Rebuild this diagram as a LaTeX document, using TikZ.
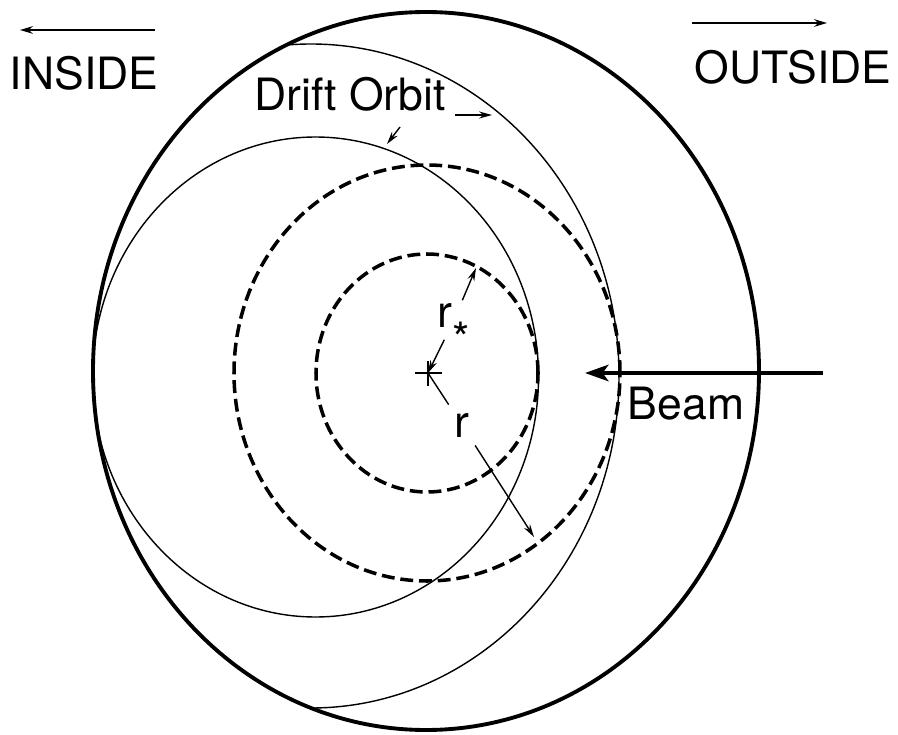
\documentclass[tikz,border=0pt]{standalone}
\usepackage{fontspec}
\setmainfont{TeX Gyre Heros}
\usetikzlibrary{arrows.meta,positioning}

\begin{document}
\begin{tikzpicture}[
  x=0.03cm, y=0.03cm,
  rim/.style={line width=3.3pt},
  orbit/.style={line width=1.2pt},
  dashring/.style={line width=3pt, dash pattern=on 11pt off 5pt},
  pointer/.style={line width=1.2pt, -{Stealth[length=11pt, width=6pt]}},
  side/.style={line width=1.3pt, -{Stealth[length=11pt, width=6.5pt]}},
  beam/.style={line width=3.4pt, -{Stealth[length=20pt, width=14pt, inset=5pt]}},
  lbl/.style={font=\fontsize{38}{40}\selectfont, inner sep=0pt},
]
\useasboundingbox (0,0) rectangle (898,-735);

% rim, orbits and rings
\draw[rim] (426,-371) ellipse [x radius=333, y radius=359];
\draw[orbit] (315.5,-377) ellipse [x radius=223, y radius=240];
\begin{scope}
  \clip (426,-371) ellipse [x radius=333, y radius=359];
  \draw[orbit] (311,-376) ellipse [x radius=308, y radius=332];
\end{scope}
\draw[dashring] (427,-373) ellipse [x radius=111, y radius=119];
\draw[dashring] (427,-373) ellipse [x radius=193, y radius=208];

% centre mark
\coordinate (ctr) at (428,-373);
\draw[orbit] (415,-373) -- (442,-373) (428,-361) -- (428,-386);

% labels
\node[lbl] (inside) at (84,-73) {INSIDE};
\node[lbl] (outside) at (793,-67) {OUTSIDE};
\node[lbl] (drift) at (350,-94) {Drift Orbit};
\node[lbl] (beamlbl) at (686,-404) {Beam};
\node[lbl, inner sep=3pt] (rstar) at (454,-320) {r\raisebox{-0.6em}[0pt][0.18em]{*}};
\node[lbl, inner sep=7pt] (rr) at (462,-425) {r};

% direction arrows
\coordinate (inR) at (155,-30);
\coordinate (inL) at (20,-30);
\draw[side] (inR) -- (inL);
\coordinate (outL) at (692,-23);
\coordinate (outR) at (827,-23);
\draw[side] (outL) -- (outR);

% drift orbit pointers
\coordinate (dr1) at (455,-115);
\coordinate (dr2) at (492,-115);
\draw[pointer] (dr1) -- (dr2);
\coordinate (dr3) at (400,-127);
\coordinate (dr4) at (387,-144);
\draw[pointer] (dr3) -- (dr4);

% beam
\coordinate (bsrc) at (823,-373);
\coordinate (btip) at (585,-373);
\draw[beam] (bsrc) -- (btip);

% radii
\coordinate (rstarend) at (476,-268);
\coordinate (rend) at (534,-537);
\draw[pointer] (rstar) -- (ctr);
\draw[pointer] (rstar) -- (rstarend);
\draw[orbit] (ctr) -- (rr);
\draw[pointer] (rr) -- (rend);
\end{tikzpicture}
\end{document}
